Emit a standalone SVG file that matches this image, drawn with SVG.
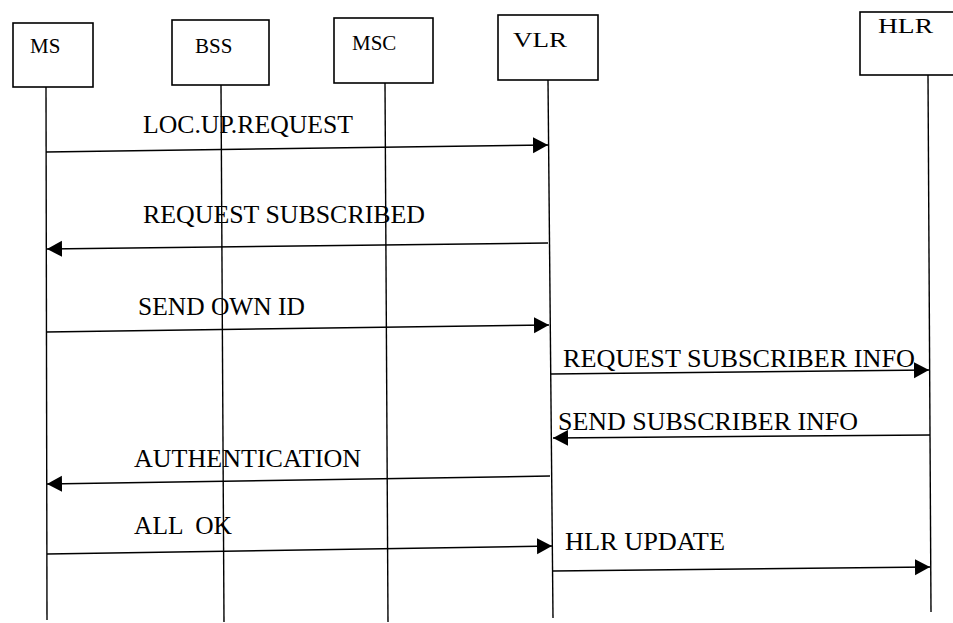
<svg xmlns="http://www.w3.org/2000/svg" width="953" height="623" viewBox="0 0 953 623">
<style>
.box{fill:#fff;stroke:#000;stroke-width:1.6}
.life{stroke:#000;stroke-width:1.4;fill:none}
.msg{stroke:#000;stroke-width:1.5;fill:none;marker-end:url(#ah)}
.nl{font-family:"Liberation Serif","Times New Roman",serif;font-size:21px;fill:#000}
.ml{font-family:"Liberation Serif","Times New Roman",serif;font-size:26px;fill:#000}
</style>
<defs>
<marker id="ah" markerUnits="userSpaceOnUse" markerWidth="16" markerHeight="17" refX="15" refY="8" orient="auto">
<path d="M0,0 L15,8 L0,16 z" fill="#000"/>
</marker>
</defs>
<rect width="953" height="623" fill="#fff"/>
<g id="MS">
<rect class="box" x="13" y="23" width="80" height="64"/>
<line class="life" x1="46" y1="87" x2="47" y2="620"/>
<text class="nl" x="30" y="53">MS</text>
</g>
<g id="BSS">
<rect class="box" x="172" y="20" width="97" height="65"/>
<line class="life" x1="221" y1="85" x2="224" y2="622"/>
<text class="nl" x="195" y="53">BSS</text>
</g>
<g id="MSC">
<rect class="box" x="334" y="18" width="99" height="65"/>
<line class="life" x1="385" y1="83" x2="388" y2="622"/>
<text class="nl" x="352" y="50">MSC</text>
</g>
<g id="VLR">
<rect class="box" x="498" y="15" width="100" height="65"/>
<line class="life" x1="548" y1="80" x2="553" y2="618"/>
<text class="nl" x="513" y="47" textLength="54" lengthAdjust="spacingAndGlyphs">VLR</text>
</g>
<g id="HLR">
<rect class="box" x="860" y="12" width="95" height="63"/>
<line class="life" x1="928" y1="75" x2="931" y2="612"/>
<text class="nl" x="878" y="33" textLength="55" lengthAdjust="spacingAndGlyphs">HLR</text>
</g>
<g id="connectors">
<line class="msg" x1="46" y1="152" x2="548" y2="145"/>
<line class="msg" x1="548" y1="243" x2="47" y2="249"/>
<line class="msg" x1="46" y1="332" x2="549" y2="325"/>
<line class="msg" x1="551" y1="374" x2="929" y2="370"/>
<line class="msg" x1="930" y1="435" x2="553" y2="438"/>
<line class="msg" x1="550" y1="476" x2="47" y2="484"/>
<line class="msg" x1="47" y1="554" x2="552" y2="546"/>
<line class="msg" x1="553" y1="571" x2="930" y2="567"/>
</g>
<g id="labels">
<text class="ml" x="143" y="133" textLength="210" lengthAdjust="spacingAndGlyphs">LOC.UP.REQUEST</text>
<text class="ml" x="143" y="223" textLength="282" lengthAdjust="spacingAndGlyphs">REQUEST SUBSCRIBED</text>
<text class="ml" x="138" y="315" textLength="167" lengthAdjust="spacingAndGlyphs">SEND OWN ID</text>
<text class="ml" x="563" y="367" textLength="352" lengthAdjust="spacingAndGlyphs">REQUEST SUBSCRIBER INFO</text>
<text class="ml" x="558" y="430" textLength="300" lengthAdjust="spacingAndGlyphs">SEND SUBSCRIBER INFO</text>
<text class="ml" x="134" y="467" textLength="227" lengthAdjust="spacingAndGlyphs">AUTHENTICATION</text>
<text class="ml" x="134" y="534" xml:space="preserve" textLength="98" lengthAdjust="spacingAndGlyphs">ALL  OK</text>
<text class="ml" x="565" y="550" textLength="160" lengthAdjust="spacingAndGlyphs">HLR UPDATE</text>
</g>
</svg>
